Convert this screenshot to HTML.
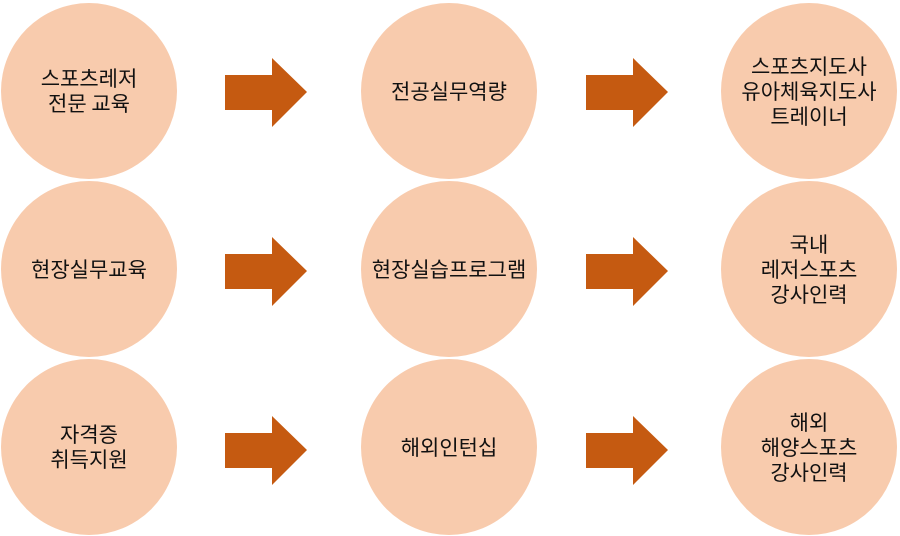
<!DOCTYPE html>
<html><head><meta charset="utf-8"><style>
body{margin:0;width:900px;height:536px;background:#fff;position:relative;overflow:hidden;font-family:"Noto Sans CJK KR","Liberation Sans",sans-serif}
.c{position:absolute;width:176px;height:176px;border-radius:50%;background:#F8CBAD;display:flex;align-items:center;justify-content:center;text-align:center;font-size:21px;line-height:25px;color:#111}
svg{position:absolute;left:0;top:0}
</style></head><body>
<div class="c" style="left:1px;top:3px">스포츠레저<br>전문 교육</div>
<div class="c" style="left:361px;top:3px">전공실무역량</div>
<div class="c" style="left:721px;top:3px">스포츠지도사<br>유아체육지도사<br>트레이너</div>
<div class="c" style="left:1px;top:181px">현장실무교육</div>
<div class="c" style="left:361px;top:181px">현장실습프로그램</div>
<div class="c" style="left:721px;top:181px">국내<br>레저스포츠<br>강사인력</div>
<div class="c" style="left:1px;top:359px">자격증<br>취득지원</div>
<div class="c" style="left:361px;top:359px">해외인턴십</div>
<div class="c" style="left:721px;top:359px">해외<br>해양스포츠<br>강사인력</div>
<svg width="900" height="536" fill="#C55A11">
<g id="a"><polygon points="225,75 272,75 272,58 307,92 272,127 272,110 225,110"/></g>
<use href="#a" x="361"/>
<use href="#a" y="179"/>
<use href="#a" x="361" y="179"/>
<use href="#a" y="358"/>
<use href="#a" x="361" y="358"/>
</svg>
</body></html>
